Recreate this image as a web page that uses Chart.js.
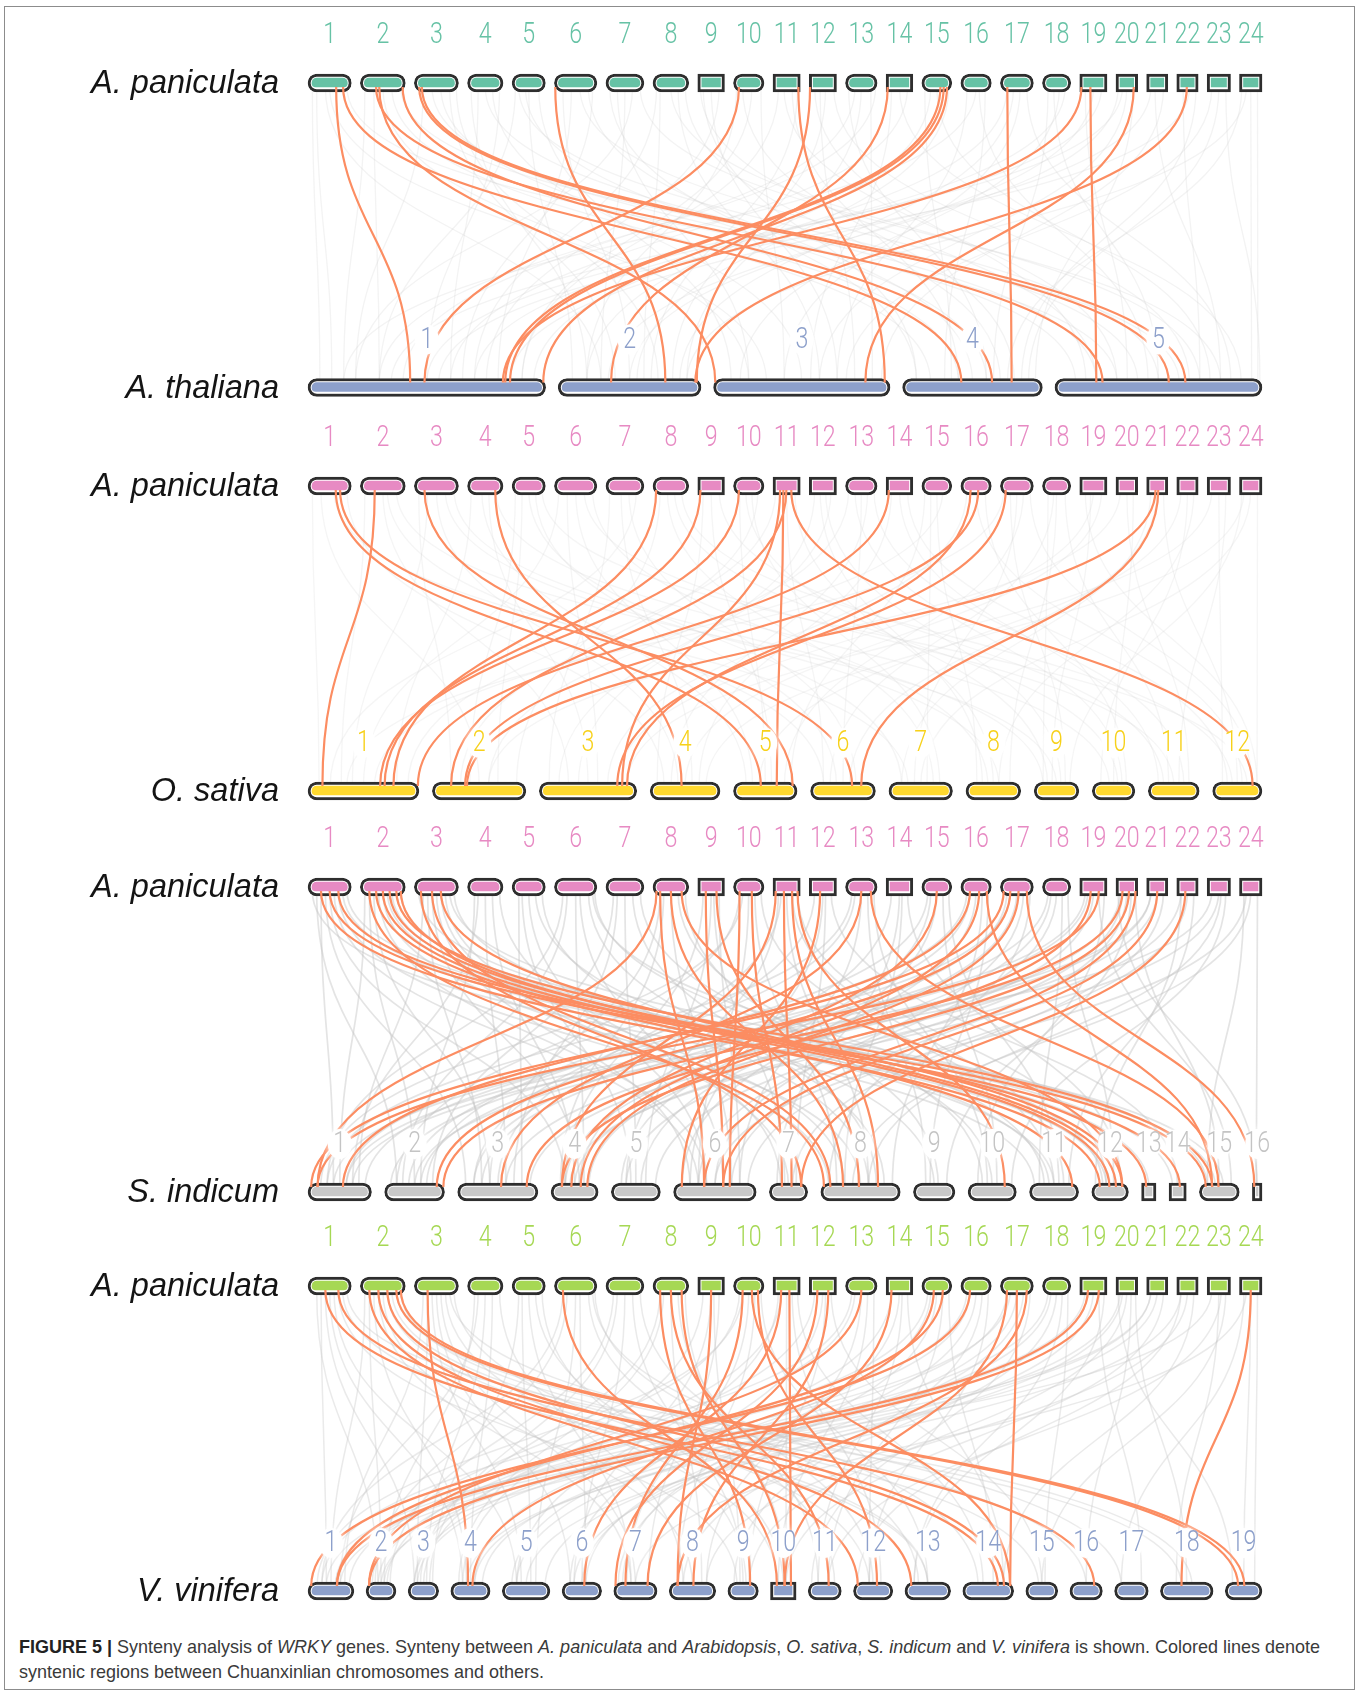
<!DOCTYPE html>
<html>
<head>
<meta charset="utf-8">
<title>Synteny analysis of WRKY genes</title>
<script src="https://cdn.jsdelivr.net/npm/chart.js@4.4.1/dist/chart.umd.min.js"></script>
<style>
  body { margin: 0; background: #fff; }
  #page { position: relative; width: 1360px; height: 1694px; overflow: hidden; }
  #frame { position: absolute; left: 4px; top: 6px; width: 1351px; height: 1684px; border: 1.5px solid #8c8c8c; box-sizing: border-box; }
  #syn { position: absolute; left: 0; top: 0; }
  #caption { position: absolute; left: 19px; top: 1634px; font-family: "Liberation Sans", Arial, sans-serif; font-size: 19px; line-height: 25px; color: #3a3a3a; transform-origin: 0 0; white-space: nowrap; }
  #caption b { font-weight: bold; color: #222; }
</style>
</head>
<body>
<div id="page">
  <div id="frame"></div>
  <canvas id="syn" width="1360" height="1625"></canvas>
  <div id="caption">
    <div id="cap1"><b>FIGURE 5 |</b> Synteny analysis of <i>WRKY</i> genes. Synteny between <i>A. paniculata</i> and <i>Arabidopsis</i>, <i>O. sativa</i>, <i>S. indicum</i> and <i>V. vinifera</i> is shown. Colored lines denote</div>
    <div>syntenic regions between Chuanxinlian chromosomes and others.</div>
  </div>
</div>
<script>
const TRACK_LEFT = 308, TRACK_RIGHT = 1262;
const CANVAS_W = 1360, CANVAS_H = 1625;

// chromosome names
const apChroms = ['1','2','3','4','5','6','7','8','9','10','11','12','13','14','15','16','17','18','19','20','21','22','23','24'];
const thChroms = ['1','2','3','4','5'];
const osChroms = ['1','2','3','4','5','6','7','8','9','10','11','12'];
const siChroms = ['1','2','3','4','5','6','7','8','9','10','11','12','13','14','15','16'];
const vvChroms = ['1','2','3','4','5','6','7','8','9','10','11','12','13','14','15','16','17','18','19'];

// chromosome lengths (Mb)
const apLengths = [15.6, 16.2, 15.9, 12.8, 12.0, 15.3, 13.7, 12.9, 9.6, 11.0, 9.8, 9.8, 11.4, 9.6, 10.8, 11.0, 11.9, 10.2, 9.8, 7.8, 7.6, 7.7, 8.4, 8.1];
const thLengths = [31.1, 18.7, 23.1, 18.3, 27.1];
const osLengths = [42.7, 36.0, 37.5, 26.9, 24.5, 25.0, 24.5, 21.1, 17.2, 16.4, 19.6, 19.0];
const siLengths = [15.9, 15.0, 20.1, 11.8, 12.3, 20.7, 9.6, 19.9, 10.4, 12.1, 12.3, 9.2, 3.6, 4.3, 10.0, 2.4];
const vvLengths = [23.0, 15.0, 15.3, 19.7, 23.9, 19.8, 21.7, 23.3, 15.3, 12.8, 16.6, 19.7, 22.9, 25.5, 16.0, 16.3, 16.9, 26.4, 18.4];

// WRKY syntenic pairs: [A. paniculata chr, relative position, other chr, relative position]
const thLinks = [
  [1,.65,1,.43], [1,.81,4,.42], [2,.35,5,.23], [2,.42,3,.01], [2,.94,4,.64], [3,.11,5,.55], [3,.17,5,.63],
  [6,.02,2,.75], [10,.18,1,.49], [11,.93,3,.97], [12,.03,2,.97], [14,.06,2,.37], [15,.62,1,.83], [15,.73,1,.85],
  [15,.84,1,.99], [17,.21,4,.78], [19,.06,1,.82], [19,.39,5,.20], [20,.82,3,.86], [22,.47,2,.96]
];
const osLinks = [
  [1,.64,5,.43], [1,.74,6,.64], [2,.32,1,.13], [3,.23,5,.93], [4,.78,4,.45], [8,.09,1,.77], [9,.10,1,.69],
  [10,.18,1,.65], [11,.26,3,.85], [11,.38,5,.68], [11,.49,2,.20], [11,.67,12,.81], [14,.10,1,.99], [16,.32,3,.90],
  [16,.57,2,.35], [17,.16,3,.80], [21,.42,2,.37], [21,.55,6,.78]
];
const siLinks = [
  [8,.1,1,.15], [1,.3,12,.22], [1,.5,14,.63], [1,.7,15,.16], [2,.2,8,.04], [2,.35,11,.87], [2,.5,12,.48],
  [2,.65,13,.32], [2,.8,15,.32], [2,.9,12,.66], [3,.15,7,.83], [3,.4,8,.12], [3,.6,12,.83], [8,.2,6,.37],
  [8,.5,8,.28], [8,.8,12,.83], [9,.3,6,.6], [9,.7,8,.48], [10,.2,6,.68], [10,.6,7,.33], [11,.1,4,.23],
  [11,.4,7,.58], [11,.7,8,.72], [11,.9,10,.76], [12,.4,6,.1], [13,.5,3,.54], [13,.8,15,.48], [15,.5,4,.43],
  [16,.3,1,.55], [16,.6,4,.63], [16,.85,15,.32], [17,.1,1,.05], [17,.3,2,.87], [17,.55,4,.77], [17,.8,16,.2],
  [19,.4,3,.86], [19,.7,1,.15], [20,.3,2,.98], [20,.6,4,.23], [20,.9,6,.37], [21,.5,6,.6], [22,.4,7,.83]
];
const vvLinks = [
  [1,.4,14,.69], [1,.7,16,.75], [2,.2,12,.11], [2,.4,13,.14], [2,.6,14,.81], [2,.8,19,.35], [2,.9,19,.52],
  [3,.3,4,.44], [6,.2,10,.25], [8,.2,9,.73], [8,.5,11,.62], [8,.8,10,.55], [9,.5,8,.18], [10,.3,7,.27],
  [10,.6,14,.93], [10,.8,12,.6], [11,.3,6,.56], [11,.6,10,.8], [12,.3,7,.04], [12,.7,8,.52], [13,.5,2,.1],
  [14,.2,7,.78], [15,.4,4,.55], [15,.7,1,.63], [16,.3,1,.07], [17,.2,10,.55], [17,.5,14,.93], [17,.8,8,.18],
  [19,.3,1,.63], [19,.7,2,.1], [24,.5,18,.4]
];

// genome-wide collinear blocks shown in grey behind the WRKY pairs
const thBlocks = [
  [1,.2,1,.1],[1,.5,3,.3],[2,.3,1,.3],[2,.7,4,.2],[3,.4,5,.1],[3,.8,2,.4],[4,.3,1,.6],[4,.7,3,.5],[5,.5,2,.1],[5,.2,5,.4],
  [6,.4,1,.8],[6,.8,4,.5],[7,.3,3,.2],[7,.7,1,.2],[8,.5,5,.7],[8,.2,2,.6],[9,.5,3,.7],[10,.6,1,.9],[10,.3,4,.8],[11,.4,5,.3],
  [12,.6,2,.8],[13,.3,1,.4],[13,.8,3,.9],[14,.5,5,.9],[15,.3,2,.2],[16,.5,1,.15],[16,.8,4,.3],[17,.6,3,.4],[18,.4,5,.5],[18,.8,1,.7],
  [19,.5,2,.5],[20,.5,3,.6],[21,.4,5,.8],[22,.6,1,.55],[23,.5,4,.9],[24,.5,5,.95],[24,.3,2,.9],[9,.2,4,.1],[12,.2,5,.15],[20,.3,1,.35],
  [1,.1,1,.05],[1,.4,2,.3],[1,.9,5,.3],[2,.1,1,.15],[2,.5,3,.2],[2,.9,5,.6],[3,.2,1,.2],[3,.6,4,.4],[3,.95,2,.7],[4,.1,2,.2],
  [4,.5,5,.2],[4,.9,1,.5],[5,.1,1,.3],[5,.8,3,.1],[5,.4,4,.6],[6,.2,2,.5],[6,.6,5,.5],[6,.9,1,.65],[7,.1,4,.1],[7,.5,2,.3],
  [7,.9,5,.8],[8,.1,1,.7],[8,.7,3,.6],[8,.9,4,.7],[9,.8,1,.75],[9,.1,5,.2],[10,.1,2,.2],[10,.9,3,.4],[11,.2,1,.9],[11,.7,4,.4],
  [11,.9,2,.65],[12,.4,3,.8],[12,.9,5,.65],[13,.1,4,.6],[13,.5,2,.9],[13,.95,1,.3],[14,.2,3,.55],[14,.8,1,.6],[15,.1,4,.35],[15,.5,5,.75],
  [15,.9,2,.55],[16,.2,3,.7],[16,.6,5,.45],[17,.2,1,.95],[17,.8,5,.85],[17,.4,2,.85],[18,.2,4,.65],[18,.6,3,.15],[19,.2,5,.35],[19,.8,1,.5],
  [20,.8,4,.95],[20,.1,2,.35],[21,.8,3,.95],[21,.2,1,.85],[22,.3,5,.7],[22,.9,4,.85],[23,.2,3,.75],[23,.8,5,.99],[24,.8,5,.98],[24,.1,4,.75]
];
const osBlocks = [
  [1,.3,2,.5],[1,.6,7,.3],[2,.5,3,.3],[2,.8,9,.5],[3,.3,1,.4],[3,.7,8,.6],[4,.4,5,.2],[4,.8,10,.4],[5,.3,2,.7],[5,.7,6,.4],
  [6,.3,3,.6],[6,.7,11,.5],[7,.4,4,.6],[7,.8,1,.2],[8,.4,7,.7],[8,.8,12,.4],[9,.5,5,.6],[10,.4,9,.3],[10,.8,2,.3],[11,.5,6,.2],
  [12,.4,8,.3],[12,.8,3,.2],[13,.3,10,.7],[13,.7,4,.3],[14,.5,11,.2],[15,.3,7,.6],[15,.7,1,.6],[16,.5,12,.6],[17,.3,9,.7],[17,.7,5,.8],
  [18,.5,8,.8],[19,.5,3,.8],[20,.5,11,.8],[21,.5,6,.6],[22,.5,10,.2],[23,.5,12,.2],[24,.5,7,.5],[24,.2,4,.8],[19,.2,12,.9],[18,.2,9,.2],
  [1,.1,1,.1],[1,.9,4,.2],[2,.1,1,.3],[2,.6,6,.2],[3,.1,2,.2],[3,.5,4,.4],[3,.9,9,.2],[4,.1,1,.8],[4,.6,3,.5],[5,.1,2,.4],
  [5,.5,7,.2],[5,.9,12,.7],[6,.1,1,.5],[6,.5,5,.3],[6,.9,8,.4],[7,.1,3,.1],[7,.6,6,.7],[8,.2,2,.9],[8,.6,10,.6],[9,.2,4,.1],
  [9,.8,11,.3],[10,.2,5,.5],[10,.6,7,.8],[11,.1,1,.9],[11,.8,8,.5],[12,.2,3,.4],[12,.6,9,.6],[13,.1,2,.6],[13,.5,6,.5],[13,.9,11,.7],
  [14,.2,4,.7],[14,.8,12,.3],[15,.1,5,.9],[15,.5,8,.2],[16,.2,3,.7],[16,.8,10,.8],[17,.1,1,.35],[17,.5,7,.4],[17,.9,12,.8],[18,.4,6,.3],
  [18,.8,11,.4],[19,.4,9,.4],[19,.8,4,.5],[20,.2,2,.6],[20,.8,10,.5],[21,.2,7,.2],[21,.8,12,.5],[22,.2,5,.4],[22,.8,8,.6],[23,.2,3,.9],
  [23,.8,11,.6],[24,.8,12,.9],[24,.1,9,.8]
];
const siBlocks = [
  [1,.3,1,.4],[1,.6,6,.3],[1,.8,12,.5],[2,.2,2,.5],[2,.5,8,.5],[2,.8,15,.6],[3,.3,3,.3],[3,.6,7,.5],[3,.9,11,.4],[4,.3,1,.7],
  [4,.7,4,.5],[5,.3,5,.4],[5,.7,9,.5],[6,.3,2,.3],[6,.6,6,.6],[6,.9,12,.3],[7,.3,3,.7],[7,.7,8,.7],[8,.3,4,.2],[8,.7,10,.3],
  [9,.5,5,.7],[9,.8,6,.8],[10,.3,1,.2],[10,.7,8,.2],[11,.3,3,.5],[11,.7,11,.7],[12,.5,6,.2],[12,.8,14,.5],[13,.3,2,.7],[13,.7,9,.3],
  [14,.5,7,.2],[14,.8,12,.8],[15,.3,5,.2],[15,.7,10,.6],[16,.3,3,.2],[16,.7,8,.9],[17,.3,1,.9],[17,.7,6,.5],[18,.3,4,.8],[18,.7,11,.2],
  [19,.3,2,.1],[19,.7,15,.8],[20,.3,5,.9],[20,.7,9,.8],[21,.5,3,.9],[22,.5,6,.9],[23,.5,4,.4],[24,.5,8,.4],[22,.2,12,.1],[23,.8,10,.9],
  [24,.2,15,.2],[21,.2,1,.6],[20,.1,16,.5],[2,.9,13,.5],[1,.1,11,.1],[3,.1,14,.2],
  [1,.2,2,.2],[1,.4,3,.1],[1,.5,4,.3],[1,.7,8,.1],[1,.9,15,.4],[2,.1,1,.5],[2,.3,3,.4],[2,.4,6,.4],[2,.6,11,.5],[2,.7,12,.4],
  [3,.2,1,.8],[3,.4,4,.6],[3,.5,6,.2],[3,.7,8,.3],[3,.8,15,.2],[4,.2,2,.6],[4,.5,3,.6],[4,.9,7,.3],[5,.2,3,.8],[5,.5,6,.4],
  [5,.9,8,.6],[6,.2,1,.3],[6,.5,4,.7],[6,.8,8,.8],[6,.95,11,.3],[7,.2,2,.8],[7,.5,5,.5],[7,.9,10,.5],[8,.2,3,.4],[8,.5,6,.7],
  [8,.9,9,.6],[9,.2,4,.3],[9,.6,7,.4],[10,.2,2,.2],[10,.5,6,.3],[10,.9,11,.5],[11,.2,5,.3],[11,.5,8,.6],[11,.9,12,.4],[12,.2,3,.2],
  [12,.6,7,.7],[13,.2,1,.3],[13,.5,6,.8],[13,.9,10,.4],[14,.2,4,.6],[14,.6,8,.3],[15,.2,2,.4],[15,.5,6,.1],[15,.9,11,.6],[16,.2,1,.6],
  [16,.5,5,.6],[16,.9,9,.4],[17,.2,3,.3],[17,.5,4,.3],[17,.9,8,.1],[18,.2,2,.6],[18,.5,6,.3],[18,.9,12,.6],[19,.2,1,.4],[19,.5,5,.3],
  [19,.9,10,.2],[20,.2,3,.6],[20,.5,6,.7],[20,.9,15,.5],[21,.2,2,.5],[21,.8,7,.6],[22,.2,4,.5],[22,.8,11,.8],[23,.2,1,.7],[23,.6,8,.6],
  [24,.3,6,.5],[24,.8,16,.4]
];
const vvBlocks = [
  [1,.3,1,.4],[1,.6,5,.3],[1,.8,13,.5],[2,.2,2,.5],[2,.5,8,.5],[2,.8,18,.6],[3,.3,3,.3],[3,.6,7,.5],[3,.9,12,.4],[4,.3,1,.7],
  [4,.7,4,.5],[5,.3,5,.6],[5,.7,10,.5],[6,.3,2,.3],[6,.6,6,.6],[6,.9,14,.3],[7,.3,3,.7],[7,.7,9,.5],[8,.3,4,.2],[8,.7,11,.3],
  [9,.5,6,.3],[9,.8,7,.8],[10,.3,1,.2],[10,.7,8,.2],[11,.3,3,.5],[11,.7,12,.7],[12,.5,6,.2],[12,.8,15,.5],[13,.3,2,.7],[13,.7,10,.3],
  [14,.5,7,.2],[14,.8,14,.8],[15,.3,5,.2],[15,.7,11,.6],[16,.3,3,.2],[16,.7,9,.2],[17,.3,1,.9],[17,.7,6,.5],[18,.3,4,.8],[18,.7,13,.2],
  [19,.3,2,.1],[19,.7,17,.8],[20,.3,5,.9],[20,.7,16,.5],[21,.5,4,.4],[22,.5,8,.8],[23,.5,18,.3],[24,.5,19,.5],[22,.2,12,.1],[23,.8,15,.5],
  [24,.2,17,.2],[21,.2,1,.6],[20,.1,19,.2],[2,.9,16,.5],
  [1,.2,2,.4],[1,.4,3,.2],[1,.5,4,.3],[1,.7,9,.3],[1,.9,18,.4],[2,.1,1,.5],[2,.3,4,.4],[2,.4,7,.4],[2,.6,13,.5],[2,.7,15,.4],
  [3,.2,1,.8],[3,.4,5,.4],[3,.5,6,.2],[3,.7,10,.3],[3,.8,17,.2],[4,.2,2,.6],[4,.5,3,.6],[4,.9,8,.3],[5,.2,3,.8],[5,.5,7,.4],
  [5,.9,9,.6],[6,.2,1,.3],[6,.5,5,.7],[6,.8,11,.8],[6,.95,13,.3],[7,.2,2,.8],[7,.5,6,.5],[7,.9,12,.5],[8,.2,3,.4],[8,.5,8,.7],
  [8,.9,10,.6],[9,.2,4,.3],[9,.6,9,.4],[10,.2,2,.2],[10,.5,7,.3],[10,.9,13,.5],[11,.2,5,.3],[11,.5,10,.6],[11,.9,14,.4],[12,.2,3,.2],
  [12,.6,9,.7],[13,.2,1,.3],[13,.5,8,.8],[13,.9,12,.4],[14,.2,4,.6],[14,.6,11,.3],[15,.2,2,.4],[15,.5,7,.1],[15,.9,14,.6],[16,.2,1,.6],
  [16,.5,6,.6],[16,.9,12,.4],[17,.2,3,.3],[17,.5,5,.3],[17,.9,11,.1],[18,.2,2,.6],[18,.5,8,.3],[18,.9,15,.6],[19,.2,1,.4],[19,.5,6,.3],
  [19,.9,13,.2],[20,.2,4,.6],[20,.5,9,.7],[20,.9,18,.5],[21,.2,2,.5],[21,.8,10,.6],[22,.2,5,.5],[22,.8,14,.8],[23,.2,1,.7],[23,.6,11,.6],
  [24,.3,7,.5],[24,.8,19,.8]
];

// place chromosomes along the track as fractions of its width
function layout(lengths, gapPx) {
  const gap = gapPx / (TRACK_RIGHT - TRACK_LEFT);
  const total = lengths.reduce((a, b) => a + b, 0);
  const unit = (1 - gap * (lengths.length - 1)) / total;
  let pos = 0;
  return lengths.map(len => {
    const span = [pos, pos + len * unit];
    pos += len * unit + gap;
    return span;
  });
}

const apSpans = layout(apLengths, 9);

const panels = [
  { top: 83,  bottom: 387.5, apColor: '#66c2a5', species: 'A. thaliana', names: thChroms, spans: layout(thLengths, 12.5), color: '#8da0cb', text: '#8da0cb', links: thLinks, blocks: thBlocks, haze: 0.2, hazeWidth: 1.3 },
  { top: 486, bottom: 791,   apColor: '#e78ac3', species: 'O. sativa',   names: osChroms, spans: layout(osLengths, 13.4), color: '#ffd92f', text: '#f7d11a', links: osLinks, blocks: osBlocks, haze: 0.17, hazeWidth: 1.3 },
  { top: 887, bottom: 1192,  apColor: '#e78ac3', species: 'S. indicum',  names: siChroms, spans: layout(siLengths, 13.1), color: '#c8c8c8', text: '#c4c4c4', links: siLinks, blocks: siBlocks, haze: 0.45, hazeWidth: 1.7 },
  { top: 1286, bottom: 1591, apColor: '#a6d854', species: 'V. vinifera', names: vvChroms, spans: layout(vvLengths, 12.1), color: '#8da0cb', text: '#8da0cb', links: vvLinks, blocks: vvBlocks, haze: 0.36, hazeWidth: 1.5 }
];

// every track drawn, top (A. paniculata) and bottom of each panel
const rows = [];
panels.forEach(p => {
  rows.push({ y: p.top, spans: apSpans, names: apChroms, color: p.apColor, text: p.apColor, species: 'A. paniculata', halo: false });
  rows.push({ y: p.bottom, spans: p.spans, names: p.names, color: p.color, text: p.text, species: p.species, halo: true });
});

// short chromosomes keep square ends
function endRadius(ctx) {
  if (!ctx.raw) return 0;
  const x = ctx.chart.scales.x;
  const w = x.getPixelForValue(ctx.raw.x[1]) - x.getPixelForValue(ctx.raw.x[0]);
  return w < 28 ? 0 : 9;
}

const datasets = [];
rows.forEach(r => {
  const data = r.spans.map(s => ({ x: s, y: r.y }));
  // dark outline with a white rim, drawn underneath
  datasets.push({ data, order: 2, backgroundColor: '#ffffff', borderColor: '#2e2e2e', borderWidth: 3,
    borderRadius: endRadius, borderSkipped: false, barThickness: 18, grouped: false, clip: false });
  // coloured core on top
  datasets.push({ data, order: 1, backgroundColor: r.color, borderColor: 'rgba(0,0,0,0)',
    borderWidth: { top: 4, bottom: 5, left: 4, right: 4 },
    borderRadius: endRadius, borderSkipped: false, barThickness: 18, grouped: false, clip: false });
});

function chrPixel(chart, spans, chr, rel) {
  const s = spans[chr - 1];
  return chart.scales.x.getPixelForValue(s[0] + rel * (s[1] - s[0]));
}

function strokeLink(chart, p, l) {
  const y = chart.scales.y;
  const x1 = chrPixel(chart, apSpans, l[0], l[1]);
  const x2 = chrPixel(chart, p.spans, l[2], l[3]);
  const y1 = y.getPixelForValue(p.top) + 4;
  const y2 = y.getPixelForValue(p.bottom) - 5;
  const ym = (y1 + y2) / 2;
  const ctx = chart.ctx;
  ctx.beginPath();
  ctx.moveTo(x1, y1);
  ctx.bezierCurveTo(x1, ym, x2, ym, x2, y2);
  ctx.stroke();
}

const syntenyPlugin = {
  id: 'synteny',
  beforeDatasetsDraw(chart) {
    const ctx = chart.ctx;
    ctx.save();
    panels.forEach(p => {
      ctx.lineWidth = p.hazeWidth;
      ctx.strokeStyle = 'rgba(196,196,196,' + p.haze + ')';
      p.blocks.forEach(l => strokeLink(chart, p, l));
    });
    ctx.restore();
  },
  afterDatasetsDraw(chart) {
    const ctx = chart.ctx;
    const y = chart.scales.y;
    ctx.save();
    ctx.strokeStyle = '#fc8d62';
    ctx.lineWidth = 2.2;
    panels.forEach(p => p.links.forEach(l => strokeLink(chart, p, l)));

    rows.forEach(r => {
      const ly = y.getPixelForValue(r.y) - 48;
      r.names.forEach((name, i) => {
        const cx = chrPixel(chart, r.spans, i + 1, 0.5);
        if (r.halo) {
          ctx.save();
          ctx.fillStyle = '#fff';
          ctx.shadowColor = '#fff';
          ctx.shadowBlur = 8;
          ctx.beginPath();
          ctx.ellipse(cx, ly, 12, 15, 0, 0, Math.PI * 2);
          ctx.fill();
          ctx.restore();
        }
        ctx.save();
        ctx.translate(cx, ly);
        ctx.scale(0.8, 1);
        ctx.font = '300 29px Roboto, "Liberation Sans", sans-serif';
        ctx.fillStyle = r.text;
        ctx.textAlign = 'center';
        ctx.textBaseline = 'middle';
        ctx.fillText(name, 0, 1);
        ctx.restore();
      });
      ctx.font = 'italic 32.5px "Liberation Sans", Arial, sans-serif';
      ctx.fillStyle = '#141414';
      ctx.textAlign = 'right';
      ctx.textBaseline = 'middle';
      ctx.fillText(r.species, 279, y.getPixelForValue(r.y) + 1);
    });
    ctx.restore();
  }
};

new Chart(document.getElementById('syn'), {
  type: 'bar',
  data: { datasets },
  options: {
    indexAxis: 'y',
    responsive: false,
    animation: false,
    events: [],
    layout: { padding: { left: TRACK_LEFT, right: CANVAS_W - TRACK_RIGHT, top: 0, bottom: 0 } },
    scales: {
      x: { type: 'linear', min: 0, max: 1, display: false, stacked: false, offset: false },
      y: { type: 'linear', min: 0, max: CANVAS_H, reverse: true, display: false, stacked: false, offset: false }
    },
    plugins: { legend: { display: false }, tooltip: { enabled: false } }
  },
  plugins: [syntenyPlugin]
});

// stretch the caption so its first line runs to the right margin
const cap = document.getElementById('caption');
const w1 = document.getElementById('cap1').getBoundingClientRect().width;
cap.style.transform = 'scaleX(' + (1301 / w1) + ')';
</script>
</body>
</html>
